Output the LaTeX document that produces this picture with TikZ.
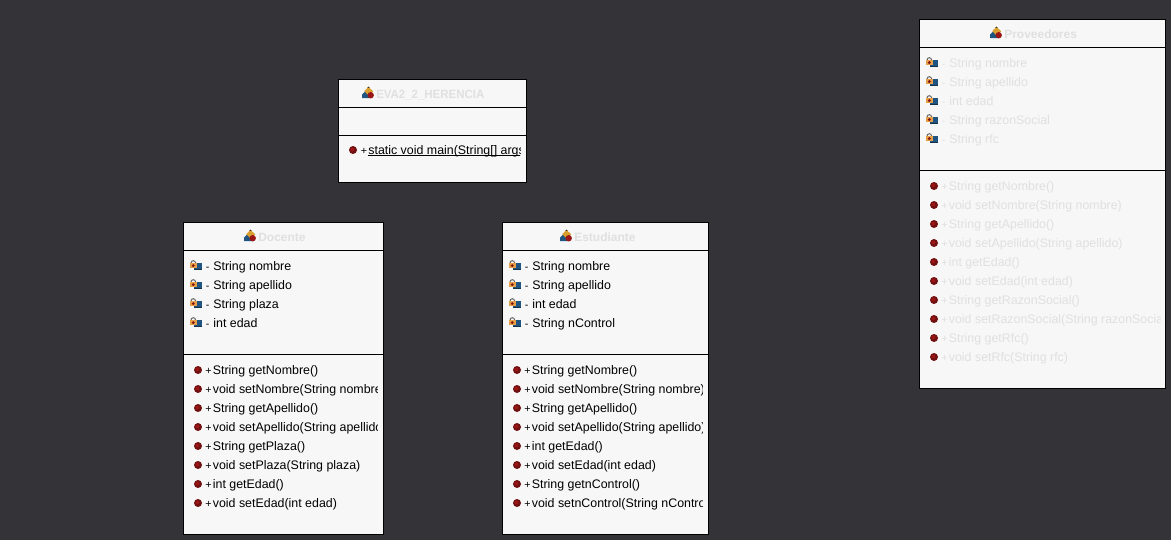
\documentclass[tikz,border=0pt]{standalone}
\usepackage{fontspec}
\setmainfont{Liberation Sans}
\definecolor{bg}{HTML}{333338}
\definecolor{panel}{HTML}{F7F7F7}
\definecolor{ghost}{HTML}{E0E0E0}
\definecolor{meth}{HTML}{701010}
\definecolor{iconblue}{HTML}{1F5580}
\definecolor{icongold}{HTML}{D9A030}
\definecolor{iconred}{HTML}{9A1515}
\definecolor{lockorange}{HTML}{E8A048}
\tikzset{x=0.75pt,y=-0.75pt,
 classbox/.style={draw=black,fill=panel,line width=0.75pt,inner sep=0,outer sep=0,anchor=north west},
 divider/.style={draw=black,line width=0.75pt},
 txt/.style={anchor=base west,inner sep=0,font=\fontsize{9.3}{10}\selectfont},
 sgn/.style={anchor=base west,inner sep=0,font=\fontsize{8}{10}\selectfont},
 ttl/.style={anchor=base west,inner sep=0,font=\fontsize{9}{10}\selectfont\bfseries,text=ghost},
 pics/classicon/.style={code={
   \fill[fill=iconblue] (-6,5) -- (-6,1.5) -- (-2,-2.5) -- (3,5) -- cycle;
   \fill[fill=icongold] (0.5,-6.2) -- (5.2,-1.6) -- (0.5,2.4) -- (-3.8,-1.8) -- cycle;
   \fill[fill=black!70!icongold] (-0.6,-5.2) -- (0.5,-6.4) -- (1.6,-5.2) -- cycle;
   \fill[fill=iconred] (2.7,2.2) circle[radius=3.2];
 }},
 pics/fieldicon/.style={code={
   \fill[fill=iconblue] (-1.5,-3.5) rectangle (7,3.5);
   \fill[fill=iconblue!60!black] (-1.5,2.6) rectangle (7,3.5);
   \draw[black!60,line width=0.75pt] (-4,-3) arc[start angle=180,end angle=360,radius=2.3];
   \fill[lockorange] (-5.5,-3) rectangle (2,2.2);
   \fill[iconred!80!black] (-1.75,-0.4) circle[radius=1.6];
 }},
 pics/methicon/.style={code={
   \fill[fill=meth] (0,0) circle[radius=4];
   \fill[fill=iconred] (-0.6,-0.6) circle[radius=2];
 }},
}
% name, x, y, text colour, sign, body, icon kind, sign x, clip right
\newcommand{\memberrow}[9]{%
  \pic at (#2,#3) {#7};
  \node[sgn,text=#4] (#1s) at (#8,#3+4) {#5};
  \begin{scope}
    \clip (#8,#3-12) rectangle (#9,#3+9);
    \node[txt,text=#4] (#1) at (#8+7.6,#3+4) {#6};
  \end{scope}
}
\newcommand{\ulined}[1]{\rlap{\rule[-1.2pt]{200pt}{0.6pt}}#1}
\begin{document}
\begin{tikzpicture}
\useasboundingbox (0,0) rectangle (1171,540);
\fill[bg] (0,0) rectangle (1171,540);

%% EVA2_2_HERENCIA
\node[classbox,minimum width=187.6*0.75pt,minimum height=102.6*0.75pt] (eva) at (338.8,79.6) {};
\coordinate (evaA) at (338.8,107.4); \coordinate (evaB) at (526.4,107.4);
\coordinate (evaC) at (338.8,135.4); \coordinate (evaD) at (526.4,135.4);
\draw[divider] (evaA) -- (evaB);
\draw[divider] (evaC) -- (evaD);
\pic at (368,93) {classicon};
\node[ttl] (evat) at (376,98) {\scalebox{0.955}[1]{EVA2\_2\_HERENCIA}};
\memberrow{evam}{353}{150}{black}{+}{\ulined{static void main(String[] args)}}{methicon}{360.5}{520}

%% Docente
\node[classbox,minimum width=199.6*0.75pt,minimum height=311.6*0.75pt] (doc) at (183.8,222.6) {};
\coordinate (docA) at (183.8,250.4); \coordinate (docB) at (383.4,250.4);
\coordinate (docC) at (183.8,354.4); \coordinate (docD) at (383.4,354.4);
\draw[divider] (docA) -- (docB);
\draw[divider] (docC) -- (docD);
\pic at (250,236) {classicon};
\node[ttl] (doct) at (258,241) {Docente};
\memberrow{docf1}{195}{266}{black}{-}{String nombre}{fieldicon}{205.5}{377}
\memberrow{docf2}{195}{285}{black}{-}{String apellido}{fieldicon}{205.5}{377}
\memberrow{docf3}{195}{304}{black}{-}{String plaza}{fieldicon}{205.5}{377}
\memberrow{docf4}{195}{323}{black}{-}{int edad}{fieldicon}{205.5}{377}
\memberrow{docm1}{198}{370}{black}{+}{String getNombre()}{methicon}{205}{377}
\memberrow{docm2}{198}{389}{black}{+}{void setNombre(String nombre)}{methicon}{205}{377}
\memberrow{docm3}{198}{408}{black}{+}{String getApellido()}{methicon}{205}{377}
\memberrow{docm4}{198}{427}{black}{+}{void setApellido(String apellido)}{methicon}{205}{377}
\memberrow{docm5}{198}{446}{black}{+}{String getPlaza()}{methicon}{205}{377}
\memberrow{docm6}{198}{465}{black}{+}{void setPlaza(String plaza)}{methicon}{205}{377}
\memberrow{docm7}{198}{484}{black}{+}{int getEdad()}{methicon}{205}{377}
\memberrow{docm8}{198}{503}{black}{+}{void setEdad(int edad)}{methicon}{205}{377}

%% Estudiante
\node[classbox,minimum width=205.6*0.75pt,minimum height=311.6*0.75pt] (est) at (502.8,222.6) {};
\coordinate (estA) at (502.8,250.4); \coordinate (estB) at (708.4,250.4);
\coordinate (estC) at (502.8,354.4); \coordinate (estD) at (708.4,354.4);
\draw[divider] (estA) -- (estB);
\draw[divider] (estC) -- (estD);
\pic at (566,236) {classicon};
\node[ttl] (estt) at (574,241) {Estudiante};
\memberrow{estf1}{514}{266}{black}{-}{String nombre}{fieldicon}{524.5}{702}
\memberrow{estf2}{514}{285}{black}{-}{String apellido}{fieldicon}{524.5}{702}
\memberrow{estf3}{514}{304}{black}{-}{int edad}{fieldicon}{524.5}{702}
\memberrow{estf4}{514}{323}{black}{-}{String nControl}{fieldicon}{524.5}{702}
\memberrow{estm1}{517}{370}{black}{+}{String getNombre()}{methicon}{524}{702}
\memberrow{estm2}{517}{389}{black}{+}{void setNombre(String nombre)}{methicon}{524}{702}
\memberrow{estm3}{517}{408}{black}{+}{String getApellido()}{methicon}{524}{702}
\memberrow{estm4}{517}{427}{black}{+}{void setApellido(String apellido)}{methicon}{524}{702}
\memberrow{estm5}{517}{446}{black}{+}{int getEdad()}{methicon}{524}{702}
\memberrow{estm6}{517}{465}{black}{+}{void setEdad(int edad)}{methicon}{524}{702}
\memberrow{estm7}{517}{484}{black}{+}{String getnControl()}{methicon}{524}{702}
\memberrow{estm8}{517}{503}{black}{+}{void setnControl(String nControl)}{methicon}{524}{702}

%% Proveedores
\node[classbox,minimum width=245.6*0.75pt,minimum height=368.6*0.75pt] (pro) at (919.8,19.6) {};
\coordinate (proA) at (919.8,47.4); \coordinate (proB) at (1165.4,47.4);
\coordinate (proC) at (919.8,170.4); \coordinate (proD) at (1165.4,170.4);
\draw[divider] (proA) -- (proB);
\draw[divider] (proC) -- (proD);
\pic at (996,33) {classicon};
\node[ttl] (prot) at (1004,38) {Proveedores};
\memberrow{prof1}{931}{63}{ghost}{-}{String nombre}{fieldicon}{941.5}{1160}
\memberrow{prof2}{931}{82}{ghost}{-}{String apellido}{fieldicon}{941.5}{1160}
\memberrow{prof3}{931}{101}{ghost}{-}{int edad}{fieldicon}{941.5}{1160}
\memberrow{prof4}{931}{120}{ghost}{-}{String razonSocial}{fieldicon}{941.5}{1160}
\memberrow{prof5}{931}{139}{ghost}{-}{String rfc}{fieldicon}{941.5}{1160}
\memberrow{prom1}{934}{186}{ghost}{+}{String getNombre()}{methicon}{941}{1160}
\memberrow{prom2}{934}{205}{ghost}{+}{void setNombre(String nombre)}{methicon}{941}{1160}
\memberrow{prom3}{934}{224}{ghost}{+}{String getApellido()}{methicon}{941}{1160}
\memberrow{prom4}{934}{243}{ghost}{+}{void setApellido(String apellido)}{methicon}{941}{1160}
\memberrow{prom5}{934}{262}{ghost}{+}{int getEdad()}{methicon}{941}{1160}
\memberrow{prom6}{934}{281}{ghost}{+}{void setEdad(int edad)}{methicon}{941}{1160}
\memberrow{prom7}{934}{300}{ghost}{+}{String getRazonSocial()}{methicon}{941}{1160}
\memberrow{prom8}{934}{319}{ghost}{+}{void setRazonSocial(String razonSocial)}{methicon}{941}{1160}
\memberrow{prom9}{934}{338}{ghost}{+}{String getRfc()}{methicon}{941}{1160}
\memberrow{prom10}{934}{357}{ghost}{+}{void setRfc(String rfc)}{methicon}{941}{1160}
\end{tikzpicture}
\end{document}
